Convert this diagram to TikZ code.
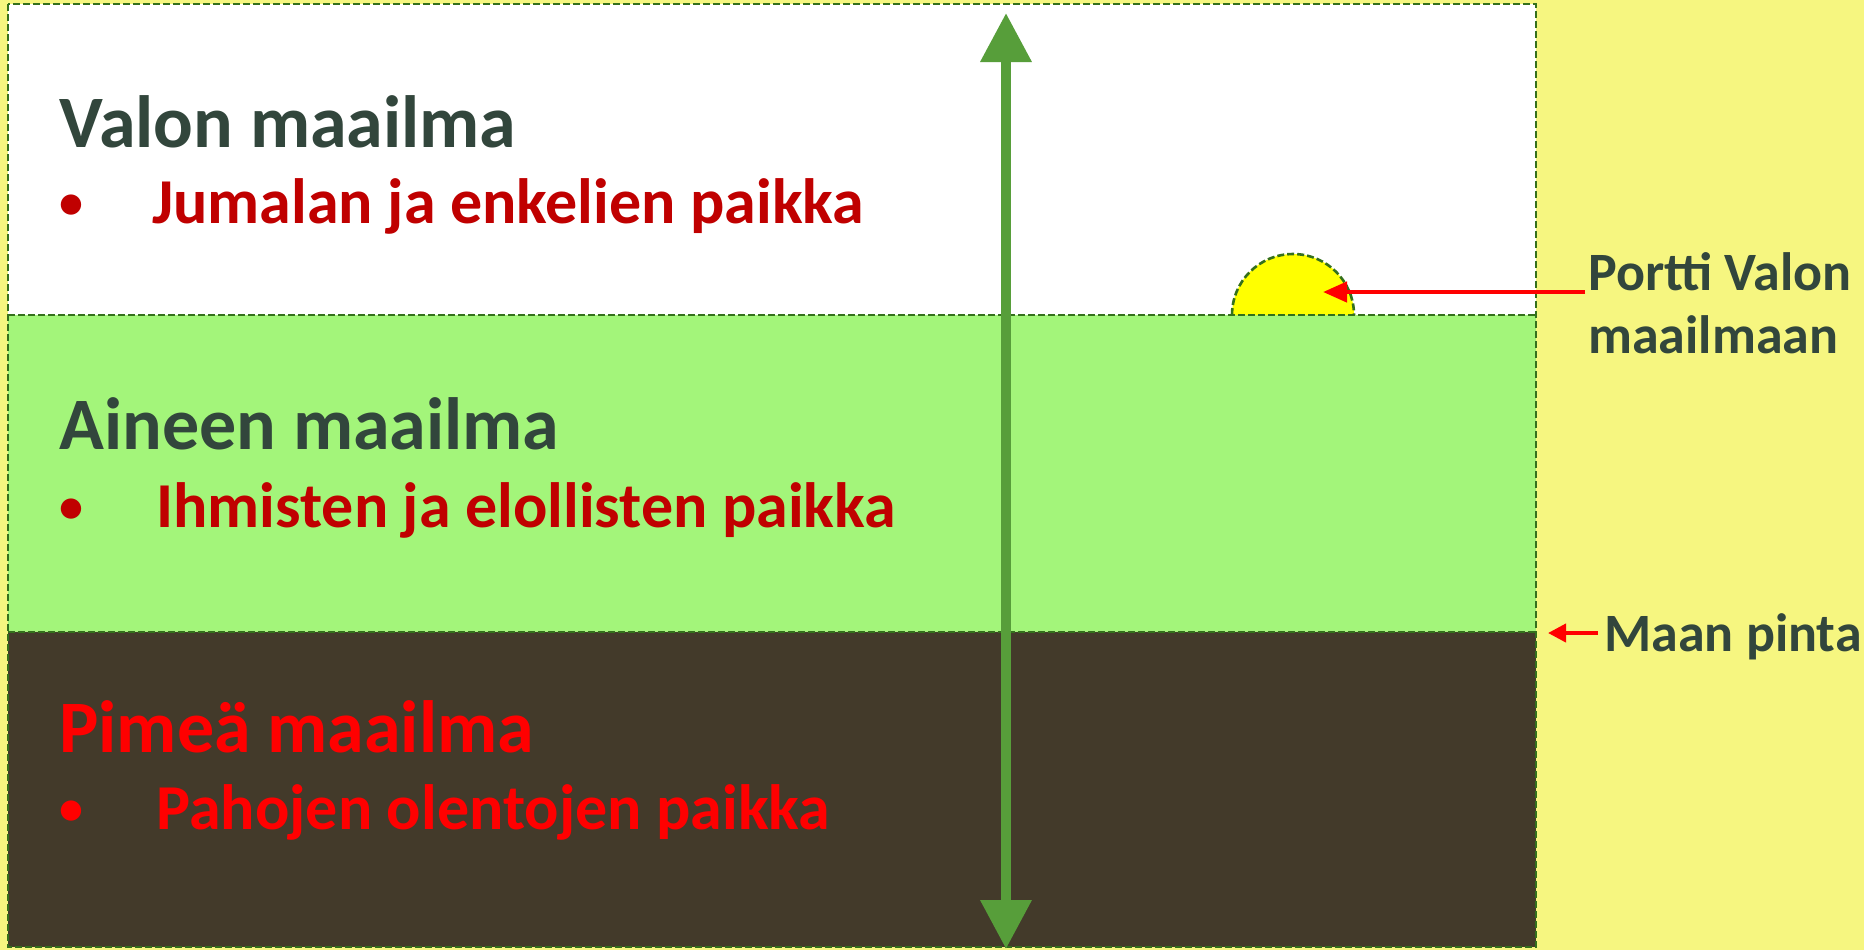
\documentclass[tikz,border=0pt]{standalone}
\usepackage{fontspec}
\setmainfont{Carlito}
\usepackage{xcolor}
\usetikzlibrary{arrows.meta}

\definecolor{bgyellow}{RGB}{246,246,128}
\definecolor{earthgreen}{RGB}{163,245,122}
\definecolor{soilbrown}{RGB}{67,58,42}
\definecolor{edgegreen}{RGB}{52,112,28}
\definecolor{axisgreen}{RGB}{87,158,58}
\definecolor{slate}{RGB}{50,70,60}
\definecolor{darkred}{RGB}{192,0,0}
\definecolor{gateyellow}{RGB}{255,255,0}

\begin{document}
\begin{tikzpicture}[
      x = 0.5pt, y = -0.5pt,
      every node/.style = {inner sep = 0pt},
      heading/.style = {anchor = base west, font = \fontsize{37}{44}\selectfont\bfseries},
      item/.style = {anchor = base west, font = \fontsize{32}{38}\selectfont\bfseries},
      dot/.style = {anchor = base, font = \fontsize{24}{30}\selectfont\bfseries},
      side/.style = {anchor = base west, align = left, text = slate,
                     font = \fontsize{27}{31.5}\selectfont\bfseries},
      border/.style = {draw = edgegreen, line width = 1.3pt, dash pattern = on 3.5pt off 1.5pt},
      pointer/.style = {draw = red, line width = 2.2pt, -{Triangle[length = 12pt, width = 10pt]}},
      axis/.style = {draw = axisgreen, line width = 5pt,
                     {Triangle[length = 24.5pt, width = 24.5pt]}-{Triangle[length = 24.5pt, width = 24.5pt]}}
      ]
      \useasboundingbox (0,0) rectangle (1864,950);
      \fill[bgyellow] (0,0) rectangle (1864,950);

      % the three worlds
      \fill[white] (8,4) rectangle (1536,315);
      \fill[earthgreen] (8,315) rectangle (1536,632);
      \fill[soilbrown] (8,632) rectangle (1536,947);

      % gate to the world of light
      \filldraw[fill = gateyellow, border] (1232,315) arc[start angle = 180, end angle = 0, radius = 30.5pt];
      \coordinate (gate) at (1323,292);

      \draw[border] (8,4) rectangle (1536,947);
      \draw[border] (8,315) -- (1536,315);
      \draw[border] (8,632) -- (1536,632);

      % axis through the worlds
      \coordinate (up) at (1006,13);
      \coordinate (down) at (1006,949);
      \draw[axis] (down) -- (up);

      % texts
      \node[heading, text = slate] (valo) at (59,147) {Valon maailma};
      \node[dot, text = darkred] (valodot) at (71,218) {•};
      \node[item, text = darkred] (valoitem) at (152,223) {Jumalan ja enkelien paikka};

      \node[heading, text = slate] (aine) at (59,449) {Aineen maailma};
      \node[dot, text = darkred] (ainedot) at (71,522) {•};
      \node[item, text = darkred] (aineitem) at (156,527) {Ihmisten ja elollisten paikka};

      \node[heading, text = red] (pimea) at (59,752) {Pimeä maailma};
      \node[dot, text = red] (pimeadot) at (71,824) {•};
      \node[item, text = red] (pimeaitem) at (156,829) {Pahojen olentojen paikka};

      % side labels
      \node[side] (portti) at (1588,353) {Portti Valon\\maailmaan};
      \node[side] (pinta) at (1604,651) {Maan pinta};
      \coordinate (surface) at (1548,633);

      \draw[pointer] (portti.west |- gate) ++(-3,0) -- (gate);
      \draw[pointer, line width = 2pt, -{Triangle[length = 9pt, width = 9pt]}]
            (pinta.west |- surface) ++(-6,0) -- (surface);
\end{tikzpicture}
\end{document}
